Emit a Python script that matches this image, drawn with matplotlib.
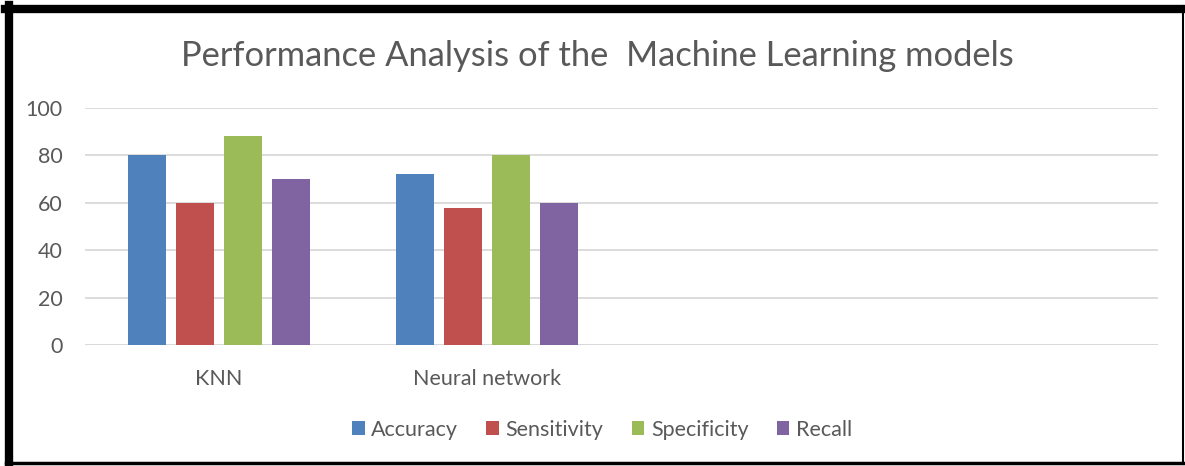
import numpy as np
import matplotlib.pyplot as plt
from matplotlib.lines import Line2D
from matplotlib.patches import Patch

plt.rcParams['font.family'] = ['Lato', 'DejaVu Sans']

categories = ["KNN", "Neural network", "", ""]
series_names = ["Accuracy", "Sensitivity", "Specificity", "Recall"]
accuracy = [80, 72]
sensitivity = [60, 58]
specificity = [88, 80]
recall = [70, 60]
y_ticks = [0, 20, 40, 60, 80, 100]

COLORS = ["#4f81bd", "#c0504d", "#9bbb59", "#8064a2"]
TEXT_COLOR = "#595959"
GRID_COLOR = "#d9d9d9"

fig = plt.figure(figsize=(11.85, 4.66), dpi=100)
ax = fig.add_axes([0.0717, 0.2597, 0.9055, 0.5085])

bar_w = 0.142
step = 0.179
x = np.arange(len(accuracy))
all_series = [accuracy, sensitivity, specificity, recall]
for i, (vals, name) in enumerate(zip(all_series, series_names)):
    offset = (i - 1.5) * step
    ax.bar(x + offset, vals, width=bar_w, color=COLORS[i], label=name, zorder=3)

ax.set_xlim(-0.5, len(categories) - 0.5)
ax.set_ylim(0, 100)
ax.set_yticks(y_ticks)
ax.set_xticks(np.arange(len(categories)))
ax.set_xticklabels(categories)
ax.yaxis.grid(True, color=GRID_COLOR, linewidth=1.3, zorder=0)
ax.tick_params(axis='both', length=0, labelcolor=TEXT_COLOR, labelsize=15.5)
ax.tick_params(axis='y', pad=16)
ax.tick_params(axis='x', pad=17)
for s in ax.spines.values():
    s.set_visible(False)
ax.axhline(0, color=GRID_COLOR, linewidth=1.3, zorder=2)

fig.text(0.504, 0.88, "Performance Analysis of the  Machine Learning models",
         ha='center', va='center', fontsize=24.8, color=TEXT_COLOR)

handles = [Patch(facecolor=c, edgecolor='none') for c in COLORS]
fig.legend(handles, series_names, loc='center', bbox_to_anchor=(0.508, 0.078),
           ncol=4, frameon=False, fontsize=15.5, handlelength=0.6, handleheight=0.6,
           handletextpad=0.3, columnspacing=1.3, labelcolor=TEXT_COLOR)

# frame: thick top/left, thin right/bottom
W, H = 1185, 466
def fx(px):
    return px / W
def fy(py):
    return 1 - py / H
fig.add_artist(Line2D([fx(5), fx(1183)], [fy(9), fy(9)], color='black', linewidth=6))
fig.add_artist(Line2D([fx(9), fx(9)], [fy(5), fy(464)], color='black', linewidth=6))
fig.add_artist(Line2D([fx(1183), fx(1183)], [fy(6), fy(464)], color='black', linewidth=1.5))
fig.add_artist(Line2D([fx(6), fx(1183)], [fy(463), fy(463)], color='black', linewidth=2.5))

fig.savefig("out.png", dpi=100)
